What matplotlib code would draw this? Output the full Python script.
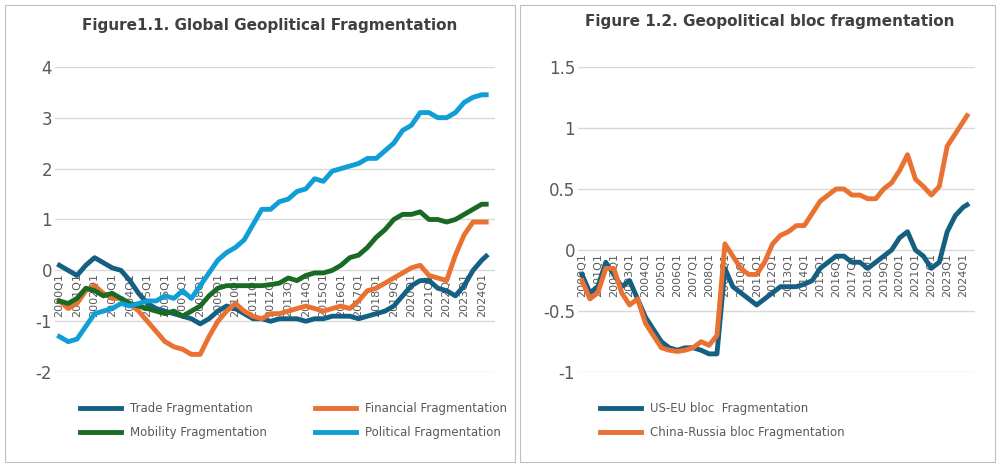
import numpy as np
import matplotlib.pyplot as plt
from matplotlib.patches import Rectangle

# half-year observations, quarter index from 2000Q1 (last one 2024Q2)
qtr = list(range(0, 97, 2)) + [97]

trade = [0.1, 0.0, -0.1, 0.1, 0.25, 0.15, 0.05, 0.0, -0.2, -0.45, -0.65, -0.75, -0.8, -0.85,
         -0.9, -0.95, -1.05, -0.95, -0.8, -0.7, -0.75, -0.85, -0.95, -0.95, -1.0, -0.95,
         -0.95, -0.95, -1.0, -0.95, -0.95, -0.9, -0.9, -0.9, -0.95, -0.9, -0.85, -0.8,
         -0.7, -0.5, -0.3, -0.2, -0.2, -0.35, -0.4, -0.5, -0.3, 0.0, 0.2, 0.28]
financial = [-0.6, -0.75, -0.65, -0.4, -0.3, -0.45, -0.55, -0.55, -0.65, -0.8, -1.0, -1.2,
             -1.4, -1.5, -1.55, -1.65, -1.65, -1.3, -1.0, -0.8, -0.65, -0.8, -0.9, -0.95,
             -0.85, -0.85, -0.8, -0.75, -0.7, -0.75, -0.8, -0.75, -0.7, -0.75, -0.6, -0.4,
             -0.35, -0.25, -0.15, -0.05, 0.05, 0.1, -0.1, -0.15, -0.2, 0.3, 0.7, 0.95, 0.95, 0.95]
mobility = [-0.6, -0.65, -0.55, -0.35, -0.4, -0.5, -0.45, -0.55, -0.65, -0.7, -0.75, -0.8,
            -0.85, -0.8, -0.9, -0.8, -0.7, -0.5, -0.35, -0.3, -0.3, -0.3, -0.3, -0.3, -0.28,
            -0.25, -0.15, -0.2, -0.1, -0.05, -0.05, 0.0, 0.1, 0.25, 0.3, 0.45, 0.65, 0.8,
            1.0, 1.1, 1.1, 1.15, 1.0, 1.0, 0.95, 1.0, 1.1, 1.2, 1.3, 1.3]
political = [-1.3, -1.4, -1.35, -1.1, -0.85, -0.8, -0.75, -0.65, -0.7, -0.65, -0.6, -0.6,
             -0.5, -0.55, -0.4, -0.55, -0.3, -0.05, 0.2, 0.35, 0.45, 0.6, 0.9, 1.2, 1.2, 1.35,
             1.4, 1.55, 1.6, 1.8, 1.75, 1.95, 2.0, 2.05, 2.1, 2.2, 2.2, 2.35, 2.5, 2.75, 2.85,
             3.1, 3.1, 3.0, 3.0, 3.1, 3.3, 3.4, 3.45, 3.45]

us_eu = [-0.2, -0.35, -0.3, -0.1, -0.2, -0.3, -0.25, -0.4, -0.55, -0.65, -0.75, -0.8, -0.82,
         -0.8, -0.8, -0.82, -0.85, -0.85, -0.15, -0.3, -0.35, -0.4, -0.45, -0.4, -0.35, -0.3,
         -0.3, -0.3, -0.28, -0.25, -0.15, -0.1, -0.05, -0.05, -0.1, -0.1, -0.15, -0.1, -0.05,
         0.0, 0.1, 0.15, 0.0, -0.05, -0.15, -0.1, 0.15, 0.28, 0.35, 0.37]
china_russia = [-0.25, -0.4, -0.35, -0.15, -0.15, -0.35, -0.45, -0.4, -0.6, -0.7, -0.8, -0.82,
                -0.83, -0.82, -0.8, -0.75, -0.78, -0.7, 0.05, -0.05, -0.15, -0.2, -0.2, -0.1,
                0.05, 0.12, 0.15, 0.2, 0.2, 0.3, 0.4, 0.45, 0.5, 0.5, 0.45, 0.45, 0.42, 0.42,
                0.5, 0.55, 0.65, 0.78, 0.58, 0.52, 0.45, 0.52, 0.85, 0.95, 1.05, 1.1]

years = list(range(2000, 2025))
tick_pos = [(y - 2000) * 4 for y in years]
tick_lab = ['%dQ1' % y for y in years]

gray = '#595959'
fig = plt.figure(figsize=(10, 4.67), dpi=100)
for x0, w in ((0.005, 0.51), (0.52, 0.475)):
    fig.patches.append(Rectangle((x0, 0.01), w, 0.98, transform=fig.transFigure,
                                 fill=False, edgecolor='#bfbfbf', lw=0.8))

def style(ax, ylim, yticks):
    ax.set_ylim(ylim)
    ax.set_xlim(-1, 99)
    ax.set_yticks(yticks)
    ax.set_yticklabels([('%g' % v) for v in yticks], fontsize=12, color=gray)
    ax.grid(axis='y', color='#d9d9d9', lw=1)
    ax.set_axisbelow(True)
    for s in ax.spines.values():
        s.set_visible(False)
    ax.spines['bottom'].set_position(('data', 0))
    ax.set_xticks(tick_pos)
    ax.set_xticklabels(tick_lab, rotation=90, fontsize=8, color=gray)
    ax.tick_params(length=0, pad=2)
    for lab in ax.get_xticklabels():
        lab.set_verticalalignment('top')

ax1 = fig.add_axes([0.055, 0.203, 0.44, 0.654])
l_tr, = ax1.plot(qtr, trade, color='#156082', lw=3.5, label='Trade Fragmentation')
l_fi, = ax1.plot(qtr, financial, color='#e97132', lw=3.5, label='Financial Fragmentation')
l_mo, = ax1.plot(qtr, mobility, color='#196b24', lw=3.5, label='Mobility Fragmentation')
l_po, = ax1.plot(qtr, political, color='#0f9ed5', lw=3.5, label='Political Fragmentation')
style(ax1, (-2, 4), [-2, -1, 0, 1, 2, 3, 4])
fig.text(0.27, 0.935, 'Figure1.1. Global Geoplitical Fragmentation', ha='center',
         fontsize=11, fontweight='bold', color='#404040')
fig.legend(handles=[l_tr, l_mo, l_fi, l_po], loc='upper left', bbox_to_anchor=(0.075, 0.15),
           ncol=2, frameon=False, fontsize=8.5, labelcolor=gray, handlelength=3.5,
           columnspacing=4, borderaxespad=0, labelspacing=1.0)

ax2 = fig.add_axes([0.578, 0.203, 0.397, 0.654])
ax2.plot(qtr, us_eu, color='#156082', lw=3.5, label='US-EU bloc  Fragmentation')
ax2.plot(qtr, china_russia, color='#e97132', lw=3.5, label='China-Russia bloc Fragmentation')
style(ax2, (-1, 1.5), [-1, -0.5, 0, 0.5, 1, 1.5])
fig.text(0.77, 0.945, 'Figure 1.2. Geopolitical bloc fragmentation', ha='center',
         fontsize=11, fontweight='bold', color='#404040')
fig.legend(handles=ax2.get_lines(), loc='upper left', bbox_to_anchor=(0.595, 0.15),
           ncol=1, frameon=False, fontsize=8.5, labelcolor=gray, handlelength=3.5,
           borderaxespad=0, labelspacing=1.0)

plt.savefig('out.png', dpi=100, facecolor='white')
